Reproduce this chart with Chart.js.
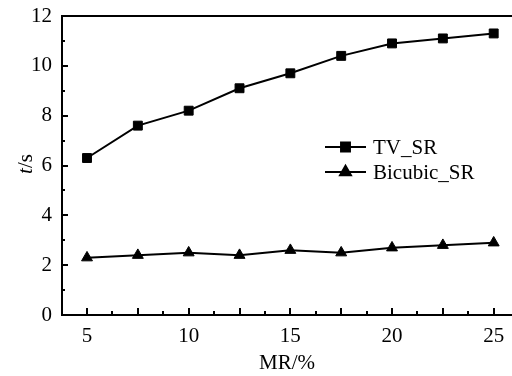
<!DOCTYPE html>
<html>
<head>
<meta charset="utf-8">
<script src="https://cdn.jsdelivr.net/npm/chart.js@4"></script>
<style>
  html, body { margin: 0; padding: 0; background: #fff; }
  #wrap { width: 512px; height: 376px; }
</style>
</head>
<body>
<div id="wrap"><canvas id="myChart" width="512" height="376"></canvas></div>
<script>
// data
var mr = [5, 7.5, 10, 12.5, 15, 17.5, 20, 22.5, 25];
var tvSR = [6.3, 7.6, 8.2, 9.1, 9.7, 10.4, 10.9, 11.1, 11.3];
var bicubicSR = [2.3, 2.4, 2.5, 2.4, 2.6, 2.5, 2.7, 2.8, 2.9];
var xTicks = [5, 10, 15, 20, 25];
var yTicks = [0, 2, 4, 6, 8, 10, 12];

var FONT = "'Liberation Serif', 'DejaVu Serif', serif";

function toPoints(xs, ys) {
    return xs.map(function (x, i) { return { x: x, y: ys[i] }; });
}

// ticks inside the plot, long and short ones
var innerTicks = {
    id: "innerTicks",
    afterDraw: function (chart) {
        var ctx = chart.ctx, x = chart.scales.x, y = chart.scales.y;
        var area = chart.chartArea;
        ctx.save();
        ctx.strokeStyle = "#000";
        ctx.lineWidth = 2;
        ctx.beginPath();
        for (var v = 5; v <= x.max; v += 1.25) {
            var px = Math.round(x.getPixelForValue(v));
            var len = (Math.abs((v / 2.5) - Math.round(v / 2.5)) < 1e-6) ? 7 : 4;
            ctx.moveTo(px, area.bottom);
            ctx.lineTo(px, area.bottom - len);
        }
        for (var w = 0; w <= 12; w += 1) {
            var py = Math.round(y.getPixelForValue(w));
            var l2 = (w % 2 === 0) ? 6 : 3;
            ctx.moveTo(area.left, py);
            ctx.lineTo(area.left + l2, py);
        }
        ctx.stroke();
        ctx.restore();
    }
};

// y title with italic t, and the legend inside the plot
var extras = {
    id: "extras",
    afterDraw: function (chart) {
        var ctx = chart.ctx;
        ctx.save();
        ctx.fillStyle = "#000";
        ctx.textBaseline = "middle";
        ctx.translate(26, 164);
        ctx.rotate(-Math.PI / 2);
        ctx.font = "italic 21px " + FONT;
        var w1 = ctx.measureText("t").width;
        ctx.font = "21px " + FONT;
        var w2 = ctx.measureText("/s").width;
        var start = -(w1 + w2) / 2;
        ctx.font = "italic 21px " + FONT;
        ctx.fillText("t", start, 0);
        ctx.font = "21px " + FONT;
        ctx.fillText("/s", start + w1, 0);
        ctx.restore();

        var rows = [147, 172];
        ctx.save();
        chart.data.datasets.forEach(function (ds, i) {
            var yy = rows[i];
            ctx.strokeStyle = "#000";
            ctx.lineWidth = 2;
            ctx.beginPath();
            ctx.moveTo(325, yy);
            ctx.lineTo(366, yy);
            ctx.stroke();
            ctx.fillStyle = "#000";
            Chart.helpers.drawPoint(ctx, { pointStyle: ds.pointStyle, radius: ds.pointRadius, rotation: 0, borderWidth: 1 }, 345.5, yy);
            ctx.font = "21px " + FONT;
            ctx.textBaseline = "middle";
            ctx.textAlign = "left";
            ctx.fillText(ds.label, 373, yy + 1);
        });
        ctx.restore();
    }
};

var ctx = document.getElementById("myChart").getContext("2d");
var myChart = new Chart(ctx, {
    type: "line",
    data: {
        datasets: [
            {
                label: "TV_SR",
                data: toPoints(mr, tvSR),
                borderColor: "#000",
                backgroundColor: "#000",
                borderWidth: 2,
                pointStyle: "rect",
                pointRadius: 6.3,
                pointBorderWidth: 1,
            },
            {
                label: "Bicubic_SR",
                data: toPoints(mr, bicubicSR),
                borderColor: "#000",
                backgroundColor: "#000",
                borderWidth: 2,
                pointStyle: "triangle",
                pointRadius: 6.3,
                pointBorderWidth: 1,
            },
        ],
    },
    options: {
        responsive: false,
        animation: false,
        layout: { padding: 0, autoPadding: false },
        plugins: { legend: { display: false }, tooltip: { enabled: false } },
        scales: {
            x: {
                type: "linear",
                position: "bottom",
                min: 3.77,
                max: 25.9,
                afterBuildTicks: function (s) {
                    s.ticks = xTicks.map(function (v) { return { value: v }; });
                },
                afterFit: function (s) {
                    s.height = 61;
                    s.paddingLeft = 0;
                    s.paddingRight = 0;
                },
                grid: { display: true, drawOnChartArea: false, drawTicks: false },
                border: { display: true, color: "#000", width: 2 },
                ticks: { color: "#000", padding: 9, maxRotation: 0, font: { family: FONT, size: 21 } },
                title: {
                    display: true,
                    text: "MR/%",
                    color: "#000",
                    padding: { top: 0, bottom: 0 },
                    font: { family: FONT, size: 21 },
                },
            },
            top: {
                type: "linear",
                position: "top",
                min: 3.77,
                max: 25.9,
                afterFit: function (s) {
                    s.height = 16;
                    s.paddingLeft = 0;
                    s.paddingRight = 0;
                },
                grid: { display: true, drawOnChartArea: false, drawTicks: false },
                border: { display: true, color: "#000", width: 2 },
                ticks: { display: false },
            },
            y: {
                min: 0,
                max: 12,
                afterBuildTicks: function (s) {
                    s.ticks = yTicks.map(function (v) { return { value: v }; });
                },
                afterFit: function (s) {
                    s.width = 62;
                    s.paddingTop = 0;
                    s.paddingBottom = 0;
                },
                grid: { display: true, drawOnChartArea: false, drawTicks: false },
                border: { display: true, color: "#000", width: 2 },
                ticks: { color: "#000", padding: 10, font: { family: FONT, size: 21 } },
            },
        },
    },
    plugins: [innerTicks, extras],
});
</script>
</body>
</html>
